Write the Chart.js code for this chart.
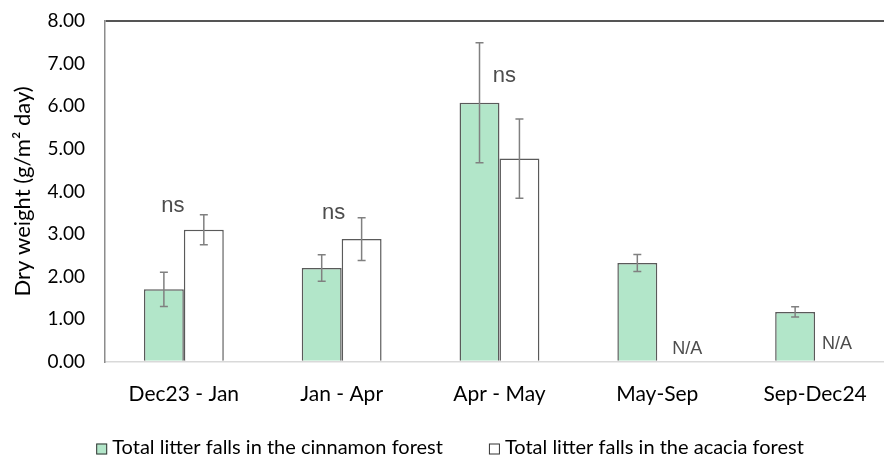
<!DOCTYPE html>
<html>
<head>
<meta charset="utf-8">
<script src="https://cdn.jsdelivr.net/npm/chart.js@4"></script>
<style>
  html, body { margin: 0; padding: 0; background: #fff; overflow: hidden; }
  #wrap { width: 900px; height: 455px; position: relative; }
</style>
</head>
<body>
<div id="wrap"><canvas id="chart"></canvas></div>
<script>
// Sampling periods
const periods = ['Dec23 - Jan', 'Jan - Apr', 'Apr - May', 'May-Sep', 'Sep-Dec24'];

// Mean daily litter fall (g/m² day) and error (±)
const cinnamon = [1.70, 2.20, 6.08, 2.32, 1.17];
const cinnamonErr = [0.40, 0.31, 1.41, 0.20, 0.12];
const acacia = [3.10, 2.88, 4.77, null, null];
const acaciaErr = [0.35, 0.50, 0.93, null, null];

// Y-axis ticks
const yTicks = [0, 1, 2, 3, 4, 5, 6, 7, 8];

// Text notes above / beside the bars
const notes = [
  { index: 0, text: 'ns', value: 3.65, dx: -11, size: 22 },
  { index: 1, text: 'ns', value: 3.50, dx: -8, size: 22 },
  { index: 2, text: 'ns', value: 6.70, dx: 5, size: 22 },
  { index: 3, text: 'N/A', value: 0.30, dx: 30, size: 18 },
  { index: 4, text: 'N/A', value: 0.42, dx: 22, size: 18 }
];

const MINT = '#b2e6c9';
const EDGE = '#5a5a5a';
const FONT = 'Lato';

const errorBars = {
  id: 'errorBars',
  afterDatasetsDraw(chart) {
    const { ctx } = chart;
    const y = chart.scales.y;
    const errs = [cinnamonErr, acaciaErr];
    ctx.save();
    ctx.strokeStyle = '#808080';
    ctx.lineWidth = 1.5;
    chart.data.datasets.forEach((ds, di) => {
      const meta = chart.getDatasetMeta(di);
      meta.data.forEach((bar, i) => {
        const v = ds.data[i];
        const e = errs[di][i];
        if (v == null || e == null) return;
        const x = bar.x;
        const yTop = y.getPixelForValue(v + e);
        const yBot = y.getPixelForValue(v - e);
        ctx.beginPath();
        ctx.moveTo(x, yTop); ctx.lineTo(x, yBot);
        ctx.moveTo(x - 4, yTop); ctx.lineTo(x + 4, yTop);
        ctx.moveTo(x - 4, yBot); ctx.lineTo(x + 4, yBot);
        ctx.stroke();
      });
    });
    ctx.restore();
  }
};

const noteLabels = {
  id: 'noteLabels',
  afterDatasetsDraw(chart) {
    const { ctx } = chart;
    const xs = chart.scales.x, ys = chart.scales.y;
    ctx.save();
    ctx.fillStyle = '#4d4d4d';
    ctx.textAlign = 'center';
    ctx.textBaseline = 'middle';
    notes.forEach(n => {
      ctx.font = n.size + 'px "Liberation Sans", Arial, sans-serif';
      ctx.fillText(n.text, xs.getPixelForValue(n.index) + n.dx, ys.getPixelForValue(n.value));
    });
    ctx.restore();
  }
};

// Legend row under the axis: square swatch + label, items centred as a group
const legendRow = {
  id: 'legendRow',
  afterDraw(chart) {
    const { ctx, width, height } = chart;
    const box = 11, textGap = 5, itemGap = 46;
    ctx.save();
    ctx.font = '20px ' + FONT;
    ctx.textBaseline = 'middle';
    ctx.textAlign = 'left';
    const items = chart.data.datasets.map(ds => ({
      text: ds.label, fill: ds.backgroundColor, w: ctx.measureText(ds.label).width
    }));
    const total = items.reduce((s, it) => s + box + textGap + it.w, 0) + itemGap * (items.length - 1);
    let x = (width - total) / 2;
    const cy = height - 6;
    items.forEach(it => {
      ctx.fillStyle = it.fill;
      ctx.fillRect(x, cy - box / 2, box, box);
      ctx.strokeStyle = '#333';
      ctx.lineWidth = 1;
      ctx.strokeRect(x + 0.5, cy - box / 2 + 0.5, box - 1, box - 1);
      ctx.fillStyle = '#000';
      ctx.fillText(it.text, x + box + textGap, cy - 1);
      x += box + textGap + it.w + itemGap;
    });
    ctx.restore();
  }
};

new Chart(document.getElementById('chart'), {
  type: 'bar',
  data: {
    labels: periods,
    datasets: [
      {
        label: 'Total litter falls in the cinnamon forest',
        data: cinnamon,
        backgroundColor: MINT,
        borderColor: EDGE,
        borderWidth: 1.5,
        borderSkipped: 'bottom'
      },
      {
        label: 'Total litter falls in the acacia forest',
        data: acacia,
        backgroundColor: '#ffffff',
        borderColor: EDGE,
        borderWidth: 1.5,
        borderSkipped: 'bottom'
      }
    ]
  },
  options: {
    responsive: true,
    maintainAspectRatio: false,
    animation: false,
    datasets: { bar: { categoryPercentage: 0.506, barPercentage: 1.0 } },
    layout: { padding: { top: 0, left: 10, right: 6, bottom: 28 } },
    plugins: {
      tooltip: { enabled: false },
      legend: { display: false }
    },
    scales: {
      x: {
        grid: { display: false, drawTicks: false },
        border: { display: true, color: '#d9d9d9', width: 1.5 },
        ticks: { font: { family: FONT, size: 21 }, color: '#000', padding: 20 }
      },
      y: {
        min: 0,
        max: 8,
        afterBuildTicks(scale) { scale.ticks = yTicks.map(v => ({ value: v })); },
        grid: {
          drawTicks: false,
          color: c => (c.tick && c.tick.value === 8 ? '#555555' : 'rgba(0,0,0,0)'),
          lineWidth: 2
        },
        border: { display: true, color: '#8c8c8c', width: 1.5 },
        ticks: {
          font: { family: FONT, size: 19, lineHeight: 0.1 },
          color: '#000',
          padding: 20,
          callback: v => Number(v).toFixed(2)
        },
        title: {
          display: true,
          text: 'Dry weight (g/m² day)',
          font: { family: FONT, size: 22 },
          color: '#000',
          padding: { top: 0, bottom: -9 }
        }
      }
    }
  },
  plugins: [errorBars, noteLabels, legendRow]
});
</script>
</body>
</html>
